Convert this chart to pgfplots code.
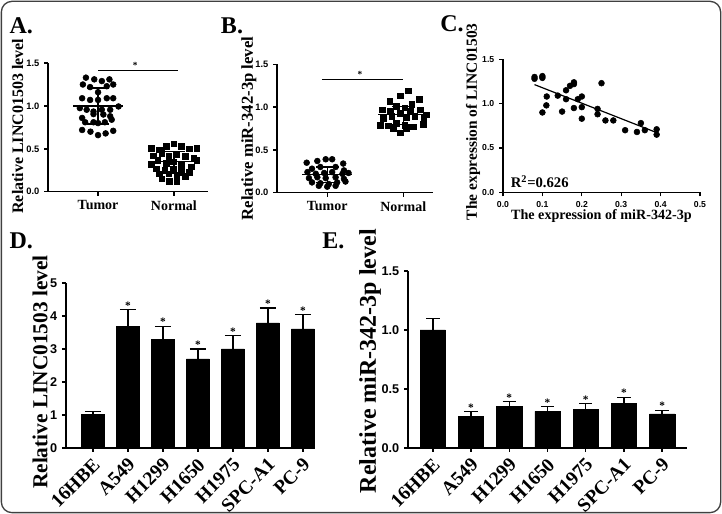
\documentclass[border=0pt]{standalone}
\usepackage{fontspec}
\setmainfont{Liberation Serif}
\setsansfont{Liberation Sans}
\usepackage{pgfplots}
\pgfplotsset{compat=1.18}
\tikzset{sigstar/.style={font=\bfseries\fontsize{8.5}{8.5}\selectfont, yshift=3pt}}
\pgfplotsset{
  gp/.style={scale only axis, anchor=south west, axis lines=left,
    axis line style={-, line width=1pt, black},
    tick style={line width=1pt, black}, major tick length=3pt,
    tick align=outside, clip=false,
    /pgf/number format/assume math mode=true,
    tick label style={font=\sffamily\bfseries\fontsize{7}{7}\selectfont},
    label style={font=\bfseries\fontsize{11}{13}\selectfont},
    minor tick num=0},
  onedec/.style={yticklabel style={/pgf/number format/fixed, /pgf/number format/fixed zerofill, /pgf/number format/precision=1}},
  dots/.style={only marks, mark=*, mark size=2.2pt, black, mark options={fill=black}},
  sq/.style={only marks, mark=square*, mark size=2.1pt, black, mark options={fill=black}},
  seg/.style={black, line width=1pt},
  barp/.style={ybar, fill=black, draw=black, bar width=0.66,
    error bars/.cd, y dir=plus, y explicit,
    error bar style={line width=1pt, black},
    error mark options={rotate=90, mark size=#1, line width=1pt, black}},
  barp/.default=6pt,
  cats/.style={xtick={0,1,2,3,4,5,6},
    xticklabels={16HBE,A549,H1299,H1650,H1975,SPC-A1,PC-9},
    xticklabel style={font=\bfseries\fontsize{14.5}{15}\selectfont, rotate=45, anchor=north east, inner sep=1pt, xshift=-2pt, yshift=-1pt}},
}
\begin{document}
\begin{tikzpicture}
\useasboundingbox (0,0) rectangle (541.5pt,385.5pt);
\draw[line width=1pt, rounded corners=8pt, black!75] (1pt,1pt) rectangle (540.5pt,384.5pt);
\node[font=\bfseries\fontsize{18}{20}\selectfont] at (16pt,366pt) {A.};
\node[font=\bfseries\fontsize{18}{20}\selectfont] at (174pt,366pt) {B.};
\node[font=\bfseries\fontsize{18}{20}\selectfont] at (339pt,368pt) {C.};
\node[font=\bfseries\fontsize{18}{20}\selectfont] at (16pt,205pt) {D.};
\node[font=\bfseries\fontsize{18}{20}\selectfont] at (250pt,205pt) {E.};

% ---------- Panel A ----------
\begin{axis}[gp, onedec, at={(36pt,241.7pt)}, width=120pt, height=96.5pt,
  xmin=0.34, xmax=2.45, ymin=0, ymax=1.5, ytick={0,0.5,1,1.5},
  xtick={1,2}, xticklabels={Tumor,Normal},
  xticklabel style={font=\bfseries\fontsize{10.5}{12}\selectfont},
  ylabel={Relative LINC01503 level},
  label style={font=\bfseries\fontsize{12}{14}\selectfont},
  ylabel style={at={(axis description cs:-0.19,0.51)}, anchor=center}]
\addplot[dots] coordinates {
(0.84,1.33)(0.95,1.31)(1.05,1.29)(1.15,1.31)
(0.80,1.25)(0.895,1.22)(1.0,1.16)(1.115,1.23)(1.20,1.25)
(0.79,1.09)(0.895,1.07)(1.0,1.07)(1.115,1.09)(1.20,1.09)
(0.76,0.975)(0.85,0.956)(0.94,0.935)(1.05,0.956)(1.16,0.956)(1.27,0.994)
(0.79,0.86)(0.94,0.905)(1.07,0.90)(1.16,0.88)
(0.83,0.81)(0.94,0.81)(1.0,0.80)(1.09,0.81)(1.18,0.84)
(0.79,0.72)(0.90,0.70)(1.0,0.66)(1.10,0.68)(1.20,0.71)};
\addplot[sq] coordinates {
(1.70,0.51)(1.81,0.49)(1.90,0.53)(2.0,0.56)(2.10,0.53)(2.20,0.50)(2.30,0.51)
(1.73,0.42)(1.84,0.45)(1.93,0.41)(2.04,0.44)(2.15,0.41)(2.26,0.39)
(1.70,0.32)(1.79,0.37)(1.90,0.33)(1.99,0.35)(2.10,0.31)(2.23,0.29)(2.30,0.37)
(1.77,0.27)(1.88,0.25)(1.99,0.26)(2.10,0.23)(2.20,0.23)
(1.81,0.21)(1.93,0.21)(2.04,0.19)(2.15,0.18)
(1.84,0.15)(1.94,0.12)(2.04,0.12)};
\addplot[seg] coordinates {(0.67,1.0)(1.33,1.0)};
\addplot[seg] coordinates {(1,0.79)(1,1.21)};
\addplot[seg] coordinates {(0.85,1.21)(1.15,1.21)};
\addplot[seg] coordinates {(0.85,0.79)(1.15,0.79)};
\addplot[seg] coordinates {(1.67,0.35)(2.33,0.35)};
\addplot[seg] coordinates {(2,0.22)(2,0.47)};
\addplot[seg] coordinates {(1.85,0.47)(2.15,0.47)};
\addplot[seg] coordinates {(1.85,0.22)(2.15,0.22)};
\addplot[seg] coordinates {(1,1.41)(2.06,1.41)};
\node[font=\bfseries\fontsize{7}{7}\selectfont] at (axis cs:1.49,1.47) {*};
\end{axis}

% ---------- Panel B ----------
\begin{axis}[gp, onedec, at={(207.75pt,241pt)}, width=117pt, height=96.3pt,
  xmin=0.34, xmax=2.39, ymin=0, ymax=1.5, ytick={0,0.5,1,1.5},
  xtick={1,2}, xticklabels={Tumor,Normal},
  xticklabel style={font=\bfseries\fontsize{10.5}{12}\selectfont},
  ylabel={Relative miR-342-3p level},
  label style={font=\bfseries\fontsize{12.5}{15}\selectfont},
  ylabel style={at={(axis description cs:-0.18,0.5)}, anchor=center}]
\addplot[dots] coordinates {
(0.73,0.35)(0.87,0.37)(0.98,0.39)(1.065,0.39)(1.21,0.34)
(0.80,0.28)(0.91,0.30)(1.11,0.30)(1.22,0.26)
(0.74,0.24)(0.85,0.22)(0.96,0.23)(1.065,0.24)(1.20,0.22)(1.28,0.23)
(0.76,0.17)(0.87,0.18)(0.98,0.17)(1.11,0.18)(1.22,0.16)
(0.80,0.12)(0.91,0.11)(1.02,0.10)(1.13,0.12)(1.24,0.13)
(0.89,0.08)(1.0,0.07)(1.11,0.08)};
\addplot[sq] coordinates {
(2.065,1.19)(1.96,1.13)(2.21,1.09)(1.82,1.07)(2.11,1.03)
(1.91,1.01)(2.02,0.99)
(1.72,0.97)(1.83,0.95)(1.96,0.93)(2.09,0.95)(2.22,0.97)(2.30,0.91)
(1.74,0.87)(1.85,0.89)(2.04,0.88)(2.15,0.89)(2.27,0.87)
(1.70,0.79)(1.80,0.78)(1.91,0.81)(2.02,0.79)(2.13,0.77)(2.26,0.80)
(1.87,0.75)(2.04,0.75)(1.96,0.70)};
\addplot[seg] coordinates {(0.67,0.21)(1.33,0.21)};
\addplot[seg] coordinates {(1,0.12)(1,0.30)};
\addplot[seg] coordinates {(0.85,0.30)(1.15,0.30)};
\addplot[seg] coordinates {(0.85,0.12)(1.15,0.12)};
\addplot[seg] coordinates {(1.67,0.91)(2.33,0.91)};
\addplot[seg] coordinates {(2,0.80)(2,1.01)};
\addplot[seg] coordinates {(1.85,1.01)(2.15,1.01)};
\addplot[seg] coordinates {(1.85,0.80)(2.15,0.80)};
\addplot[seg] coordinates {(0.93,1.32)(2.0,1.32)};
\node[font=\bfseries\fontsize{7}{7}\selectfont] at (axis cs:1.43,1.38) {*};
\end{axis}

% ---------- Panel C ----------
\begin{axis}[gp, onedec, at={(377.25pt,241.3pt)}, width=147.75pt, height=99.75pt,
  xmin=0, xmax=0.5, ymin=0, ymax=1.5, ytick={0,0.5,1,1.5},
  xtick={0,0.1,0.2,0.3,0.4,0.5},
  tick label style={font=\sffamily\bfseries\fontsize{6.5}{7}\selectfont},
  xticklabel style={/pgf/number format/fixed, /pgf/number format/fixed zerofill, /pgf/number format/precision=1},
  ylabel={The expression of LINC01503},
  xlabel={The expression of miR-342-3p},
  ylabel style={font=\bfseries\fontsize{11.6}{13}\selectfont, at={(axis description cs:-0.152,0.53)}, anchor=center},
  xlabel style={font=\bfseries\fontsize{10.6}{12}\selectfont, at={(axis description cs:0.5,-0.18)}, anchor=center}]
\addplot[dots] coordinates {
(0.08,1.30)(0.08,1.28)(0.10,1.31)(0.10,1.29)(0.111,1.08)(0.11,0.98)(0.10,0.90)
(0.139,1.09)(0.15,0.91)(0.16,1.05)(0.16,1.15)(0.17,1.20)(0.18,1.22)(0.18,1.24)
(0.18,0.95)(0.19,1.05)(0.20,1.08)(0.20,0.96)(0.20,0.83)(0.24,0.94)(0.24,0.88)
(0.25,1.23)(0.26,0.81)(0.28,0.81)(0.31,0.70)(0.34,0.68)(0.35,0.78)(0.36,0.70)
(0.39,0.71)(0.39,0.65)};
\addplot[black, line width=0.9pt] coordinates {(0.08,1.214)(0.39,0.673)};
\node[anchor=west, font=\bfseries\fontsize{11}{13}\selectfont] at (axis cs:0.008,0.12) {R\textsuperscript{2}=0.626};
\end{axis}

% ---------- Panel D ----------
\begin{axis}[gp, cats, at={(49.5pt,49.5pt)}, width=185.25pt, height=123.75pt,
  xmin=-0.77, xmax=6.29, ymin=0, ymax=5, ytick={0,1,2,3,4,5},
  yticklabel style={font=\sffamily\bfseries\fontsize{9.5}{10}\selectfont},
  ylabel={Relative LINC01503 level},
  label style={font=\bfseries\fontsize{16}{18}\selectfont},
  ylabel style={at={(axis description cs:-0.105,0.46)}, anchor=center}]
\addplot[barp] coordinates {
(0,1.01) +- (0,0.10)
(1,3.69) +- (0,0.50)
(2,3.30) +- (0,0.39)
(3,2.70) +- (0,0.30)
(4,3.00) +- (0,0.40)
(5,3.79) +- (0,0.45)
(6,3.61) +- (0,0.43)};
\node[sigstar] at (axis cs:1,4.19) {*};
\node[sigstar] at (axis cs:2,3.69) {*};
\node[sigstar] at (axis cs:3,3.00) {*};
\node[sigstar] at (axis cs:4,3.40) {*};
\node[sigstar] at (axis cs:5,4.24) {*};
\node[sigstar] at (axis cs:6,4.04) {*};
\end{axis}

% ---------- Panel E ----------
\begin{axis}[gp, onedec, cats, at={(306pt,49.5pt)}, width=209.25pt, height=132.75pt,
  xmin=-0.65, xmax=6.65, ymin=0, ymax=1.5, ytick={0,0.5,1,1.5},
  yticklabel style={font=\sffamily\bfseries\fontsize{9.5}{10}\selectfont},
  ylabel={Relative miR-342-3p level},
  label style={font=\bfseries\fontsize{18}{20}\selectfont},
  ylabel style={at={(axis description cs:-0.136,0.49)}, anchor=center}]
\addplot[barp=5pt] coordinates {
(0,1.00) +- (0,0.10)
(1,0.27) +- (0,0.04)
(2,0.35) +- (0,0.045)
(3,0.31) +- (0,0.04)
(4,0.33) +- (0,0.045)
(5,0.38) +- (0,0.05)
(6,0.29) +- (0,0.03)};
\node[sigstar] at (axis cs:1,0.31) {*};
\node[sigstar] at (axis cs:2,0.395) {*};
\node[sigstar] at (axis cs:3,0.35) {*};
\node[sigstar] at (axis cs:4,0.375) {*};
\node[sigstar] at (axis cs:5,0.43) {*};
\node[sigstar] at (axis cs:6,0.32) {*};
\end{axis}
\end{tikzpicture}
\end{document}
